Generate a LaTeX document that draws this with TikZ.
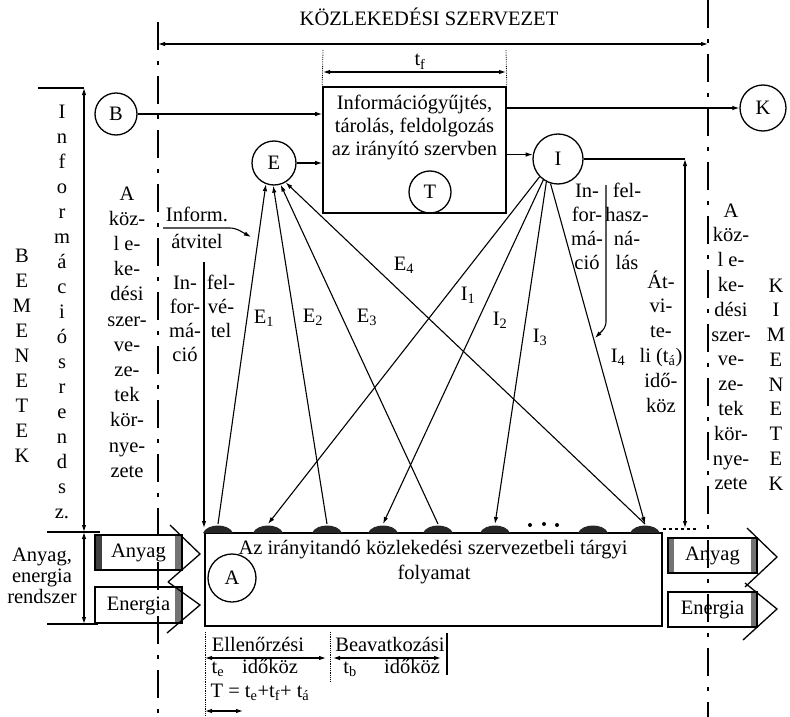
\documentclass[tikz,border=0pt]{standalone}
\usepackage{fontspec}
\setmainfont{Liberation Serif}
\usetikzlibrary{arrows.meta}
\begin{document}
\begin{tikzpicture}[x=1pt,y=-1pt,
  txt/.style={font=\fontsize{20.5}{24}\selectfont, inner sep=0pt, text height=14pt, text depth=4pt, anchor=center},
  circ/.style={draw, circle, line width=1.3pt, inner sep=0pt, font=\fontsize{20.5}{24}\selectfont},
  ln/.style={line width=1.1pt},
  arr/.style={ln, -{Latex[length=7pt,width=4.5pt]}},
  darr/.style={ln, {Latex[length=7pt,width=4.5pt]}-{Latex[length=7pt,width=4.5pt]}},
  dashdot/.style={line width=2.3pt, dash pattern=on 28pt off 11pt on 4pt off 11pt},
  tickline/.style={line width=0.8pt, densely dotted},
  blob/.style={fill=black!85},
  band/.style={fill=black!55},
  chev/.style={line width=1.3pt, line join=miter},
  flowbox/.style={draw, line width=2.2pt, inner sep=0pt, text height=14pt, text depth=4pt, font=\fontsize{20.5}{24}\selectfont}
]
\useasboundingbox (0,0) rectangle (790,717);

% boundary lines of the organisation
\coordinate (ltop) at (158,22);  \coordinate (lbot) at (158,717);
\coordinate (rtop) at (708,0);   \coordinate (rbot) at (708,717);
\draw[dashdot] (ltop) -- (lbot);
\draw[dashdot] (rtop) -- (rbot);

\node[txt] (title) at (429,21) {KÖZLEKEDÉSI SZERVEZET};
\coordinate (oL) at (158,44); \coordinate (oR) at (708,44);
\draw[darr] (oL) -- (oR);

% central box
\node[draw, line width=1.6pt, minimum width=183pt, minimum height=126pt, inner sep=0pt] (box) at (414.5,150) {};
\node[txt] (bt1) at (414.5,104) {Információgyűjtés,};
\node[txt] (bt2) at (414.5,127) {tárolás, feldolgozás};
\node[txt] (bt3) at (414.5,150) {az irányító szervben};
\node[circ, minimum size=42pt] (T) at (430,192) {T};

% t_f dimension
\coordinate (tf1) at (323,50); \coordinate (tf2) at (506,50);
\draw[tickline] (tf1) -- (box.north west);
\draw[tickline] (tf2) -- (box.north east);
\coordinate (tfa) at (323,72); \coordinate (tfb) at (506,72);
\draw[darr] (tfa) -- (tfb);
\node[txt] (tf) at (420,61) {t\textsubscript{f}};

% circles
\node[circ, minimum size=42pt] (B) at (116,114) {B};
\node[circ, minimum size=46pt] (K) at (763,108) {K};
\node[circ, minimum size=44pt] (E) at (274,163) {E};
\node[circ, minimum size=50pt] (I) at (558,159) {I};

\draw[arr] (B.east) -- (B.east -| box.west);
\draw[arr] (K.west -| box.east) -- (K.west);
\draw[arr] (E.east) -- (E.east -| box.west);
\draw[arr] (I.170 -| box.east) -- (I.170);

% transfer interval
\coordinate (ct) at (685,159); \coordinate (cb) at (685,528);
\draw[ln] (I.east) -- (ct);
\draw[darr] (ct) -- (cb);

% left information system dimension
\coordinate (il0) at (38,88); \coordinate (ilt) at (84,88); \coordinate (ilb) at (84,532);
\draw[ln] (il0) -- (ilt);
\draw[darr] (ilt) -- (ilb);
\coordinate (hm0) at (47,532); \coordinate (hm1) at (100,532);
\draw[ln] (hm0) -- (hm1);
\coordinate (ae) at (84,624);
\draw[darr] (ilb) -- (ae);
\coordinate (hb0) at (47,624); \coordinate (hb1) at (98,624);
\draw[ln] (hb0) -- (hb1);

% felvétel / felhasználás
\coordinate (fv0) at (204,262); \coordinate (fv1) at (204,528);
\draw[arr] (fv0) -- (fv1);
\coordinate (fh0) at (606,185); \coordinate (fh2) at (595,338);
\draw[arr, rounded corners=5pt] (fh0) -- (606,327) -- (fh2);

% Inform. átvitel
\coordinate (ia0) at (163,228); \coordinate (ia1) at (251,237);
\draw[arr, rounded corners=5pt] (ia0) -- (235,228) -- (ia1);
\node[txt] (inf1) at (197,216) {Inform.};
\node[txt] (inf2) at (197,243) {átvitel};

% process box
\node[draw, line width=2.2pt, minimum width=457pt, minimum height=93pt, inner sep=0pt] (proc) at (433.5,579.5) {};
\node[txt] (pt1) at (433,549) {Az irányitandó közlekedési szervezetbeli tárgyi};
\node[txt] (pt2) at (434,574) {folyamat};
\node[circ, minimum size=48pt] (A) at (232,578) {A};

% blobs
\foreach \x [count=\i] in {218,268,327,383,438,495,593,645} {
  \fill[blob] ({\x-15},533) .. controls ({\x-11},523) and ({\x+11},523) .. ({\x+15},533) -- cycle;
  \coordinate (b\i) at (\x,524);
}
\fill (530,525) circle[radius=2pt];
\fill (544,524) circle[radius=2pt];
\fill (557,525) circle[radius=2pt];
\coordinate (ds0) at (663,529); \coordinate (ds1) at (697,529);
\draw[ln, dashed] (ds0) -- (ds1);

% E and I arrows
\draw[arr] (b1) -- (E.249);
\draw[arr] (b3) -- (E.268);
\draw[arr] (b5) -- (E.287);
\draw[arr] (b8) -- (E.301);
\draw[arr] (I.224) -- (b2);
\draw[arr] (I.235) -- (b4);
\draw[arr] (I.243) -- (b6);
\draw[arr] (I.253) -- (b8);

\node[txt] (e1) at (264,318) {E\textsubscript{1}};
\node[txt] (e2) at (313,317) {E\textsubscript{2}};
\node[txt] (e3) at (367,317) {E\textsubscript{3}};
\node[txt] (e4) at (404,265) {E\textsubscript{4}};
\node[txt] (i1) at (468,295) {I\textsubscript{1}};
\node[txt] (i2) at (500,320) {I\textsubscript{2}};
\node[txt] (i3) at (540,337) {I\textsubscript{3}};
\node[txt] (i4) at (618,357) {I\textsubscript{4}};

% vertical text columns
\foreach \t [count=\i from 0] in {B,E,M,E,N,E,T,E,K}
  \node[txt] (bem\i) at (22,{257+25*\i}) {\t};
\foreach \t [count=\i from 0] in {I,n,f,o,r,m,á,c,i,ó,s,r,e,n,d,s,z.}
  \node[txt] (ir\i) at (62,{113+25*\i}) {\t};
\foreach \t [count=\i from 0] in {A,köz-,l e-,ke-,dési,szer-,ve-,ze-,tek,kör-,nye-,zete}
  \node[txt] (lk\i) at (127,{195+25.2*\i}) {\t};
\foreach \t [count=\i from 0] in {A,köz-,l e-,ke-,dési,szer-,ve-,ze-,tek,kör-,nye-,zete}
  \node[txt] (rk\i) at (731,{212+24.8*\i}) {\t};
\foreach \t [count=\i from 0] in {K,I,M,E,N,E,T,E,K}
  \node[txt] (kim\i) at (776,{287+24.75*\i}) {\t};
\foreach \t [count=\i from 0] in {In-,for-,má-,ció}
  \node[txt] (lin\i) at (185,{284+24*\i}) {\t};
\foreach \t [count=\i from 0] in {fel-,vé-,tel}
  \node[txt] (lfv\i) at (221,{284+24*\i}) {\t};
\foreach \t [count=\i from 0] in {In-,for-,má-,ció}
  \node[txt] (rin\i) at (587,{192+24.3*\i}) {\t};
\foreach \t [count=\i from 0] in {fel-,hasz-,ná-,lás}
  \node[txt] (rfh\i) at (627,{192+24.3*\i}) {\t};
\foreach \t [count=\i from 0] in {Át-,vi-,te-,{li (t\textsubscript{á})},idő-,köz}
  \node[txt] (atv\i) at (661,{283+24.8*\i}) {\t};
\foreach \t [count=\i from 0] in {{Anyag,},energia,rendszer}
  \node[txt] (aer\i) at (42,{556+21*\i}) {\t};

% material / energy flows
\fill[black!75] (95,535) rectangle (102,570);
\fill[band] (175,535) rectangle (182,570);
\node[flowbox, minimum width=87pt, minimum height=35pt] (anyL) at (138.5,552.5) {Anyag};
\fill[band] (175,587) rectangle (182,623);
\node[flowbox, minimum width=87pt, minimum height=36pt] (enL) at (138.5,605) {Energia};
\draw[chev] (170,525) -- (200,554) -- (168,582);
\draw[chev] (168,582) -- (200,605) -- (167,633);

\fill[band] (668,538) rectangle (674,573);
\fill[band] (751,538) rectangle (757,573);
\node[flowbox, minimum width=89pt, minimum height=35pt] (anyR) at (712.5,555.5) {Anyag};
\fill[band] (751,592) rectangle (757,627);
\node[flowbox, minimum width=89pt, minimum height=35pt] (enR) at (712.5,609.5) {Energia};
\draw[chev] (747,528) -- (777,557) -- (745,587);
\draw[chev] (745,583) -- (777,609) -- (743,640);

% time intervals
\coordinate (v1a) at (205,632); \coordinate (v1b) at (205,717);
\coordinate (v2a) at (330,632); \coordinate (v2b) at (330,682);
\coordinate (v3a) at (447,633); \coordinate (v3b) at (447,675);
\draw[tickline] (v1a) -- (v1b);
\draw[tickline] (v2a) -- (v2b);
\draw[ln] (v3a) -- (v3b);
\coordinate (ea) at (205,658); \coordinate (eb) at (326,658);
\coordinate (ba) at (333,658); \coordinate (bb) at (441,658);
\draw[darr] (ea) -- (eb);
\draw[darr] (ba) -- (bb);
\node[txt] (ell) at (258,646) {Ellenőrzési};
\node[txt] (bea) at (390,646) {Beavatkozási};
\node[txt, text depth=2pt] (te) at (218,667) {t\textsubscript{e}};
\node[txt, text depth=2pt] (ik1) at (270,667) {időköz};
\node[txt, text depth=2pt] (tb) at (350,667) {t\textsubscript{b}};
\node[txt, text depth=2pt] (ik2) at (412,667) {időköz};
\node[txt, text height=12pt] (Teq) at (260,693) {T = t\textsubscript{e}+t\textsubscript{f}+ t\textsubscript{á}};
\coordinate (ta) at (205,711); \coordinate (tb2) at (243,711);
\draw[darr] (ta) -- (tb2);
\end{tikzpicture}
\end{document}
